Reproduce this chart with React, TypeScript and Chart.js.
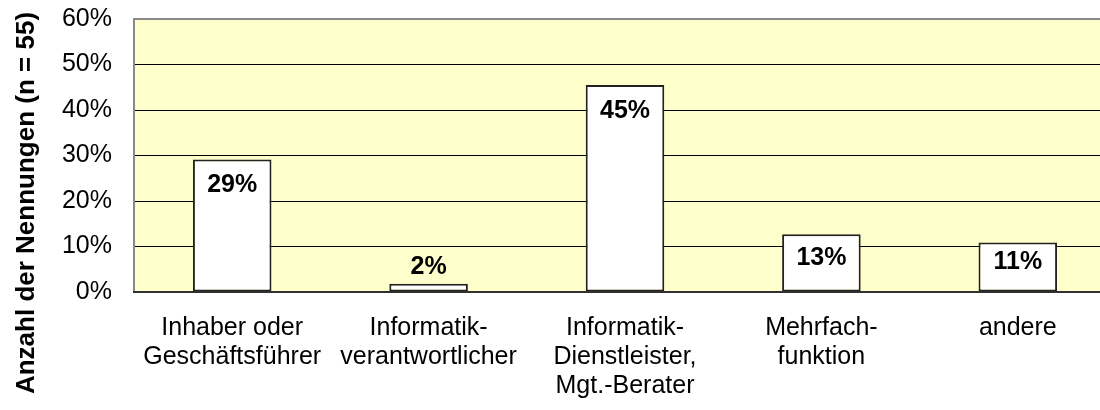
import React, { useEffect, useRef } from "react";
import { Chart, registerables } from "chart.js";

Chart.register(...registerables);

const categories: string[][] = [
  ["Inhaber oder", "Geschäftsführer"],
  ["Informatik-", "verantwortlicher"],
  ["Informatik-", "Dienstleister,", "Mgt.-Berater"],
  ["Mehrfach-", "funktion"],
  ["andere"],
];
const values: number[] = [29.1, 1.8, 45.5, 12.7, 10.9];
const valueLabels: string[] = ["29%", "2%", "45%", "13%", "11%"];
const yTitle = "Anzahl der Nennungen (n = 55)";
const yMin = 0;
const yMax = 60;
const yStep = 10;

const FONT = "'Liberation Sans', Arial, sans-serif";

const plotPlugin = {
  id: "plotDeco",
  beforeDraw(chart: any) {
    const { ctx, chartArea: a } = chart;
    ctx.save();
    ctx.fillStyle = "#FFFFCC";
    ctx.fillRect(a.left, a.top, a.right - a.left, a.bottom - a.top);
    ctx.restore();
  },
  afterDatasetsDraw(chart: any) {
    const { ctx, chartArea: a } = chart;
    ctx.save();
    ctx.strokeStyle = "#8a8a8a";
    ctx.lineWidth = 2;
    ctx.beginPath();
    ctx.moveTo(a.left, a.bottom);
    ctx.lineTo(a.left, a.top);
    ctx.lineTo(a.right, a.top);
    ctx.stroke();
    ctx.strokeStyle = "#303030";
    ctx.beginPath();
    ctx.moveTo(a.left - 1, a.bottom);
    ctx.lineTo(a.right, a.bottom);
    ctx.stroke();

    const meta = chart.getDatasetMeta(0);
    ctx.fillStyle = "#000";
    ctx.font = `bold 25px ${FONT}`;
    ctx.textAlign = "center";
    ctx.textBaseline = "middle";
    meta.data.forEach((bar: any, i: number) => {
      const top = bar.y;
      const bottom = bar.base;
      const h = bottom - top;
      let y: number;
      if (h < 30) y = top - 17;
      else y = Math.min(top + 26, (top + bottom) / 2 - 4.5);
      ctx.fillText(valueLabels[i], bar.x, y);
    });

    ctx.save();
    ctx.translate(27, 203);
    ctx.rotate(-Math.PI / 2);
    ctx.font = `bold 26px ${FONT}`;
    ctx.fillText(yTitle, 0, 0);
    ctx.restore();
    ctx.restore();
  },
};

export default function App() {
  const ref = useRef<HTMLCanvasElement | null>(null);
  useEffect(() => {
    if (!ref.current) return;
    const chart = new Chart(ref.current, {
      type: "bar",
      data: {
        labels: categories,
        datasets: [
          {
            data: values,
            backgroundColor: "#ffffff",
            borderColor: "#222222",
            borderWidth: 2,
            borderSkipped: false,
            categoryPercentage: 1,
            barPercentage: 0.4,
          },
        ],
      },
      options: {
        animation: false,
        responsive: false,
        layout: { padding: { top: 19, left: 0, right: 0, bottom: 0 } },
        plugins: { legend: { display: false }, tooltip: { enabled: false } },
        scales: {
          x: {
            grid: { display: false, drawTicks: false },
            border: { display: false },
            ticks: {
              color: "#000",
              font: { family: FONT, size: 25, lineHeight: 1.16 },
              padding: 22,
              maxRotation: 0,
              autoSkip: false,
            },
            afterFit(scale: any) {
              scale.height = 118;
              scale.paddingLeft = 0;
              scale.paddingRight = 0;
            },
          },
          y: {
            min: yMin,
            max: yMax,
            grid: { color: "#000", lineWidth: 1, drawTicks: false },
            border: { display: false },
            ticks: {
              stepSize: yStep,
              color: "#000",
              font: { family: FONT, size: 25 },
              padding: 22,
              callback: (v: any) => `${v}%`,
            },
            afterFit(scale: any) {
              scale.width = 134;
              scale.paddingTop = 0;
              scale.paddingBottom = 0;
            },
          },
        },
      },
      plugins: [plotPlugin],
    });
    return () => chart.destroy();
  }, []);
  return (
    <div style={{ position: "fixed", left: 0, top: 0, width: 1116, height: 410, background: "#fff" }}>
      <canvas ref={ref} width={1116} height={410} style={{ display: "block" }} />
    </div>
  );
}
